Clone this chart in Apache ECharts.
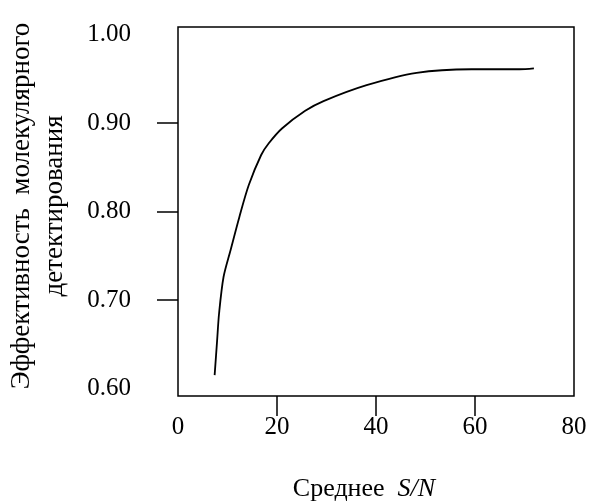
<!DOCTYPE html>
<html>
<head>
<meta charset="utf-8">
<script src="https://cdn.jsdelivr.net/npm/echarts@6/dist/echarts.min.js"></script>
<style>html,body{margin:0;padding:0;background:#fff}#c{width:593px;height:502px}</style>
</head>
<body>
<div id="c"></div>
<script>
const snr = [7.4, 7.9, 8.3, 9.2, 10.6, 12.4, 14.3, 16.8, 18.3, 21.0, 25.7, 29.4, 38.1, 48.2, 59.3, 69.0, 71.9];
const efficiency = [0.615, 0.654, 0.685, 0.726, 0.756, 0.794, 0.830, 0.864, 0.877, 0.894, 0.914, 0.925, 0.943, 0.957, 0.961, 0.961, 0.962];
const xTickLabels = [0, 20, 40, 60, 80];
const xTicks = [20, 40, 60];
const yTickLabels = [0.6, 0.7, 0.8, 0.9, 1.0];
const yTicks = [0.7, 0.8, 0.9];
const yTitle1 = 'Эффективность  молекулярного';
const yTitle2 = 'детектирования';
const xTitle = 'Среднее';
const xTitleVar = 'S/N';

const chart = echarts.init(document.getElementById('c'));
const font = 'Liberation Serif';
chart.setOption({
  animation: false,
  grid: {left: 178, top: 27, width: 396, height: 369, show: true, borderColor: '#000', borderWidth: 1.5, backgroundColor: 'transparent'},
  xAxis: {
    type: 'value', min: 0, max: 80,
    axisLine: {show: false},
    splitLine: {show: false},
    axisTick: {show: true, inside: false, length: 20, customValues: xTicks, lineStyle: {color: '#000', width: 1.5}},
    axisLabel: {customValues: xTickLabels, fontFamily: font, fontSize: 25, color: '#000', margin: 19, formatter: v => String(v)}
  },
  yAxis: {
    type: 'value', min: 0.5914, max: 1.0088,
    axisLine: {show: false},
    splitLine: {show: false},
    axisTick: {show: true, inside: false, length: 21, customValues: yTicks, lineStyle: {color: '#000', width: 1.5}},
    axisLabel: {customValues: yTickLabels, fontFamily: font, fontSize: 25, color: '#000', margin: 47, formatter: v => v.toFixed(2)}
  },
  series: [{
    type: 'line',
    data: snr.map((x, i) => [x, efficiency[i]]),
    showSymbol: false,
    smooth: 0.3,
    lineStyle: {color: '#000', width: 1.8}
  }],
  graphic: [
    {type: 'text', x: 22, y: 206, rotation: Math.PI / 2, style: {text: yTitle1, font: '27px "Liberation Serif"', fill: '#000', align: 'center', verticalAlign: 'middle'}},
    {type: 'text', x: 55, y: 206, rotation: Math.PI / 2, style: {text: yTitle2, font: '27px "Liberation Serif"', fill: '#000', align: 'center', verticalAlign: 'middle'}},
    {type: 'text', x: 364, y: 489, style: {
      text: '{a|' + xTitle + '  }{b|' + xTitleVar + '}',
      align: 'center', verticalAlign: 'middle',
      rich: {
        a: {fontFamily: font, fontSize: 26, fill: '#000', color: '#000'},
        b: {fontFamily: font, fontSize: 26, fontStyle: 'italic', fill: '#000', color: '#000'}
      }
    }}
  ]
});
</script>
</body>
</html>
